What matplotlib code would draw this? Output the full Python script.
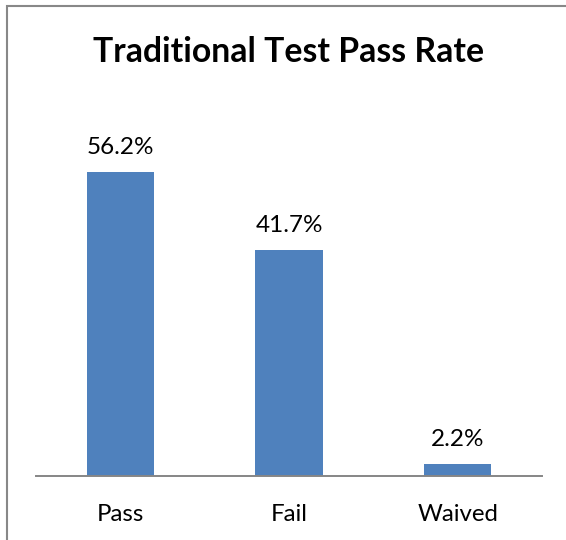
"""Traditional test pass rate bar chart."""

import matplotlib
matplotlib.use("Agg")
import matplotlib.pyplot as plt
from matplotlib.patches import Rectangle

categories = ["Pass", "Fail", "Waived"]
rates = [56.2, 41.7, 2.2]
rate_labels = ["56.2%", "41.7%", "2.2%"]

plt.rcParams["font.family"] = ["Lato", "DejaVu Sans"]

fig = plt.figure(figsize=(5.66, 5.40), dpi=100)
ax = fig.add_axes([36 / 566, 64 / 540, 506 / 566, 325 / 540])

x = range(len(categories))
ax.bar(x, rates, width=0.4, color="#4F81BD")
ax.set_xlim(-0.5, 2.5)
ax.set_ylim(0, 60)

for i, (v, lbl) in enumerate(zip(rates, rate_labels)):
    ax.annotate(lbl, (i, v), xytext=(0, 14), textcoords="offset pixels",
                ha="center", va="bottom", fontsize=17.5, color="black")

ax.set_xticks(list(x))
ax.set_xticklabels(categories, fontsize=17.3)
ax.tick_params(axis="x", length=0, pad=20)
ax.set_yticks([])
for side in ["left", "right", "top"]:
    ax.spines[side].set_visible(False)
ax.spines["bottom"].set_color("#868686")
ax.spines["bottom"].set_linewidth(1.4)

fig.text(289 / 566, 1 - 52 / 540, "Traditional Test Pass Rate",
         ha="center", va="center", fontsize=24.3, fontweight="bold")

# chart frame (only left and top edges are visible in the crop)
fig.patches.append(Rectangle((6.5 / 566, -0.1), 1.2, 1 - 5.5 / 540 + 0.1,
                             transform=fig.transFigure, fill=False,
                             edgecolor="#888888", linewidth=1.5))

plt.savefig("out.png", dpi=100)
plt.close()
